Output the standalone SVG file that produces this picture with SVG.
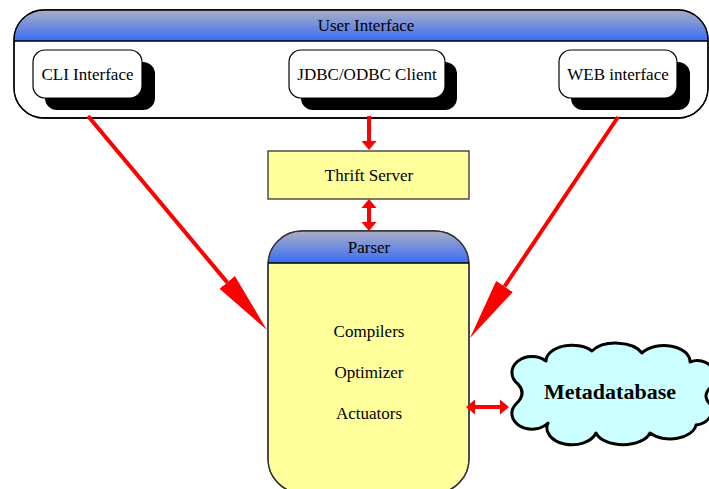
<svg xmlns="http://www.w3.org/2000/svg" width="709" height="489" viewBox="0 0 709 489" font-family="'Liberation Serif', 'Times New Roman', 'DejaVu Serif', serif">
  <style>
    text { font-family: "Liberation Serif", "Times New Roman", "DejaVu Serif", serif; font-size: 17px; fill: #000; text-anchor: middle; }
    .frame { fill: #fff; stroke: #000; stroke-width: 1.3; }
    .box { fill: #fff; stroke: #000; stroke-width: 1.2; }
    .shadow { fill: #000; }
    .core { fill: #ffff9c; stroke: #333; stroke-width: 1.3; }
    .sep { stroke: #000; stroke-width: 1.3; }
    .link { stroke: #ff0000; fill: none; }
    .big { stroke-width: 4; marker-end: url(#headBig); }
    .small { stroke-width: 4; marker-end: url(#headSmall); }
    .both { marker-start: url(#headSmall); }
    .bold { font-weight: bold; font-size: 22px; }
  </style>
  <defs>
    <linearGradient id="band" x1="0" y1="0" x2="0" y2="1">
      <stop offset="0" stop-color="#a9afc6"/>
      <stop offset="1" stop-color="#3a6cf4"/>
    </linearGradient>
    <clipPath id="uiClip">
      <rect x="14" y="10" width="694" height="108" rx="30" ry="30"/>
    </clipPath>
    <clipPath id="parserClip">
      <rect x="268" y="231" width="201" height="262" rx="34" ry="34"/>
    </clipPath>
    <marker id="headBig" markerUnits="userSpaceOnUse" markerWidth="64" markerHeight="24" refX="0" refY="10" orient="auto" viewBox="0 0 64 20">
      <path d="M0,0 L62,10 L0,20 Z" fill="#ff0000"/>
    </marker>
    <marker id="headSmall" markerUnits="userSpaceOnUse" markerWidth="10" markerHeight="16" refX="0" refY="7.5" orient="auto-start-reverse" viewBox="0 0 10 15">
      <path d="M0,0 L9,7.5 L0,15 Z" fill="#ff0000"/>
    </marker>
  </defs>

  <!-- User interface container -->
  <g id="user-interface">
    <rect class="frame" x="14" y="10" width="694" height="108" rx="30" ry="30"/>
    <rect x="14" y="10" width="694" height="31" fill="url(#band)" clip-path="url(#uiClip)"/>
    <rect x="14" y="10" width="694" height="108" rx="30" ry="30" fill="none" stroke="#000" stroke-width="1.3"/>
    <line class="sep" x1="14" y1="41" x2="708" y2="41"/>
    <text x="366" y="31">User Interface</text>
  </g>

  <g id="cli-interface">
    <rect class="shadow" x="45" y="62" width="110" height="48" rx="12"/>
    <rect class="box" x="33" y="50" width="109" height="48" rx="12"/>
    <text x="87.5" y="80">CLI Interface</text>
  </g>

  <g id="jdbc-odbc-client">
    <rect class="shadow" x="301" y="62" width="156" height="48" rx="12"/>
    <rect class="box" x="289" y="50" width="156" height="48" rx="12"/>
    <text x="367" y="80">JDBC/ODBC Client</text>
  </g>

  <g id="web-interface">
    <rect class="shadow" x="571" y="62" width="119" height="48" rx="12"/>
    <rect class="box" x="559" y="50" width="118" height="48" rx="12"/>
    <text x="618" y="80">WEB interface</text>
  </g>

  <g id="thrift-server">
    <rect class="core" x="268" y="151" width="201" height="48"/>
    <text x="369" y="181">Thrift Server</text>
  </g>

  <g id="parser">
    <rect class="core" x="268" y="231" width="201" height="262" rx="34" ry="34"/>
    <rect x="268" y="231" width="201" height="32" fill="url(#band)" clip-path="url(#parserClip)"/>
    <rect x="268" y="231" width="201" height="262" rx="34" ry="34" fill="none" stroke="#333" stroke-width="1.3"/>
    <line class="sep" x1="268" y1="263" x2="469" y2="263"/>
    <text x="369" y="253">Parser</text>
    <text x="369" y="337">Compilers</text>
    <text x="369" y="378">Optimizer</text>
    <text x="369" y="419">Actuators</text>
  </g>

  <g id="metadatabase">
    <path d="M518,384
             A20,16 0 0 1 546,361
             A26,16 0 0 1 592,351
             A28,16 0 0 1 642,353
             A26,16 0 0 1 690,362
             A18,16 0 0 1 712,386
             Q700,396 712,406
             A18,16 0 0 1 696,425
             A26,16 0 0 1 650,433
             A28,16 0 0 1 596,433
             A24,16 0 0 1 548,423
             A18,14 0 0 1 516,404
             Q527,394 518,384 Z"
          fill="#ccffff" stroke="#000" stroke-width="3" stroke-linejoin="round"/>
    <text class="bold" x="610" y="399">Metadatabase</text>
  </g>

  <!-- Connectors -->
  <g id="connectors">
    <line class="link big" x1="88" y1="116" x2="227.2" y2="282.4"/>
    <line class="link big" x1="618" y1="117" x2="504.5" y2="286.5"/>
    <line class="link small" x1="369" y1="116" x2="369" y2="141"/>
    <line class="link small both" x1="369" y1="208" x2="369" y2="222"/>
    <line class="link small both" x1="475" y1="407" x2="500" y2="407"/>
  </g>
</svg>
